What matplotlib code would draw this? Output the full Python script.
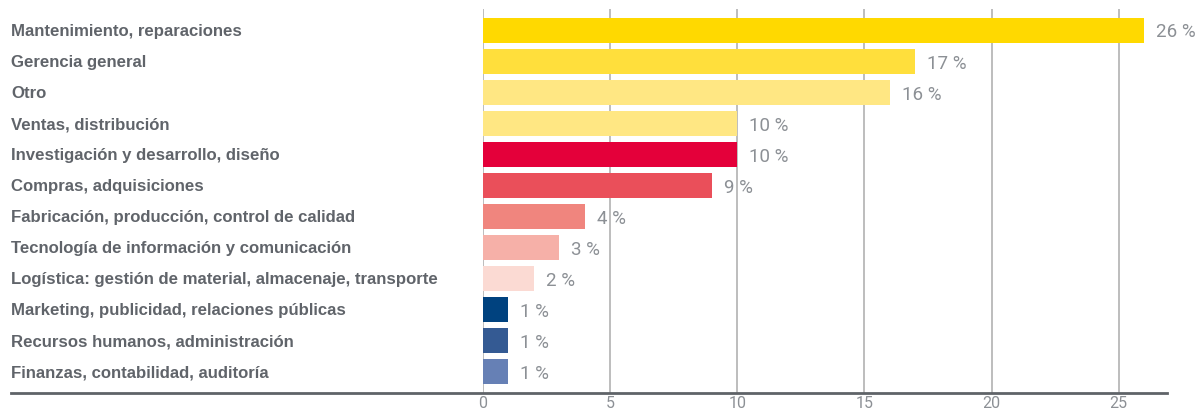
import matplotlib
matplotlib.use("Agg")
import matplotlib.pyplot as plt

# data
categories = [
    "Mantenimiento, reparaciones",
    "Gerencia general",
    "Otro",
    "Ventas, distribución",
    "Investigación y desarrollo, diseño",
    "Compras, adquisiciones",
    "Fabricación, producción, control de calidad",
    "Tecnología de información y comunicación",
    "Logística: gestión de material, almacenaje, transporte",
    "Marketing, publicidad, relaciones públicas",
    "Recursos humanos, administración",
    "Finanzas, contabilidad, auditoría",
]
values = [26, 17, 16, 10, 10, 9, 4, 3, 2, 1, 1, 1]
colors = ["#FFD900", "#FFDF3C", "#FFE783", "#FFE783", "#E4003A", "#EA4F5A",
          "#F0857E", "#F6B0A8", "#FBDAD3", "#00427F", "#345A93", "#6680B5"]
xticks = [0, 5, 10, 15, 20, 25]

W, H = 1199, 413
fig = plt.figure(figsize=(W / 100, H / 100), dpi=100)
ax_l, ax_r, ax_t, ax_b = 483, 1167, 9, 393
ax = fig.add_axes([ax_l / W, (H - ax_b) / H, (ax_r - ax_l) / W, (ax_b - ax_t) / H])

ypos = list(range(len(values)))
ax.barh(ypos, values, height=0.8, color=colors, zorder=3)
ax.set_xlim(0, 26.9)
ax.set_ylim(len(values) - 1 + 0.69, -0.69)

# value labels
for y, v in zip(ypos, values):
    ax.annotate(f"{v} %", (v, y), xytext=(8.6, -1.5), textcoords="offset points",
                ha="left", va="center", fontsize=13.5, color="#8C9095",
                family="Roboto", zorder=5)

# category labels at left edge of figure
for y, c in zip(ypos, categories):
    ax.annotate(c, xy=(11 / W, y), xycoords=("figure fraction", "data"),
                xytext=(0, -1), textcoords="offset points",
                ha="left", va="center", fontsize=12.1, fontweight="bold",
                color="#60646A", family="Liberation Sans")

ax.set_xticks(xticks)
ax.set_yticks([])
ax.tick_params(axis="x", length=0, pad=2, labelsize=11.5, labelcolor="#8C9095")
for lab in ax.get_xticklabels():
    lab.set_family("Roboto")
ax.grid(axis="x", color="#B8B8B8", linewidth=1.3, zorder=0)
for s in ax.spines.values():
    s.set_visible(False)

# bottom rule running under the labels too
ax.plot([-(ax_l - 11) / (ax_r - ax_l), 1.0], [0, 0], transform=ax.transAxes,
        color="#5F6368", linewidth=2.0, clip_on=False, zorder=4)

fig.savefig("out.png", dpi=100)
